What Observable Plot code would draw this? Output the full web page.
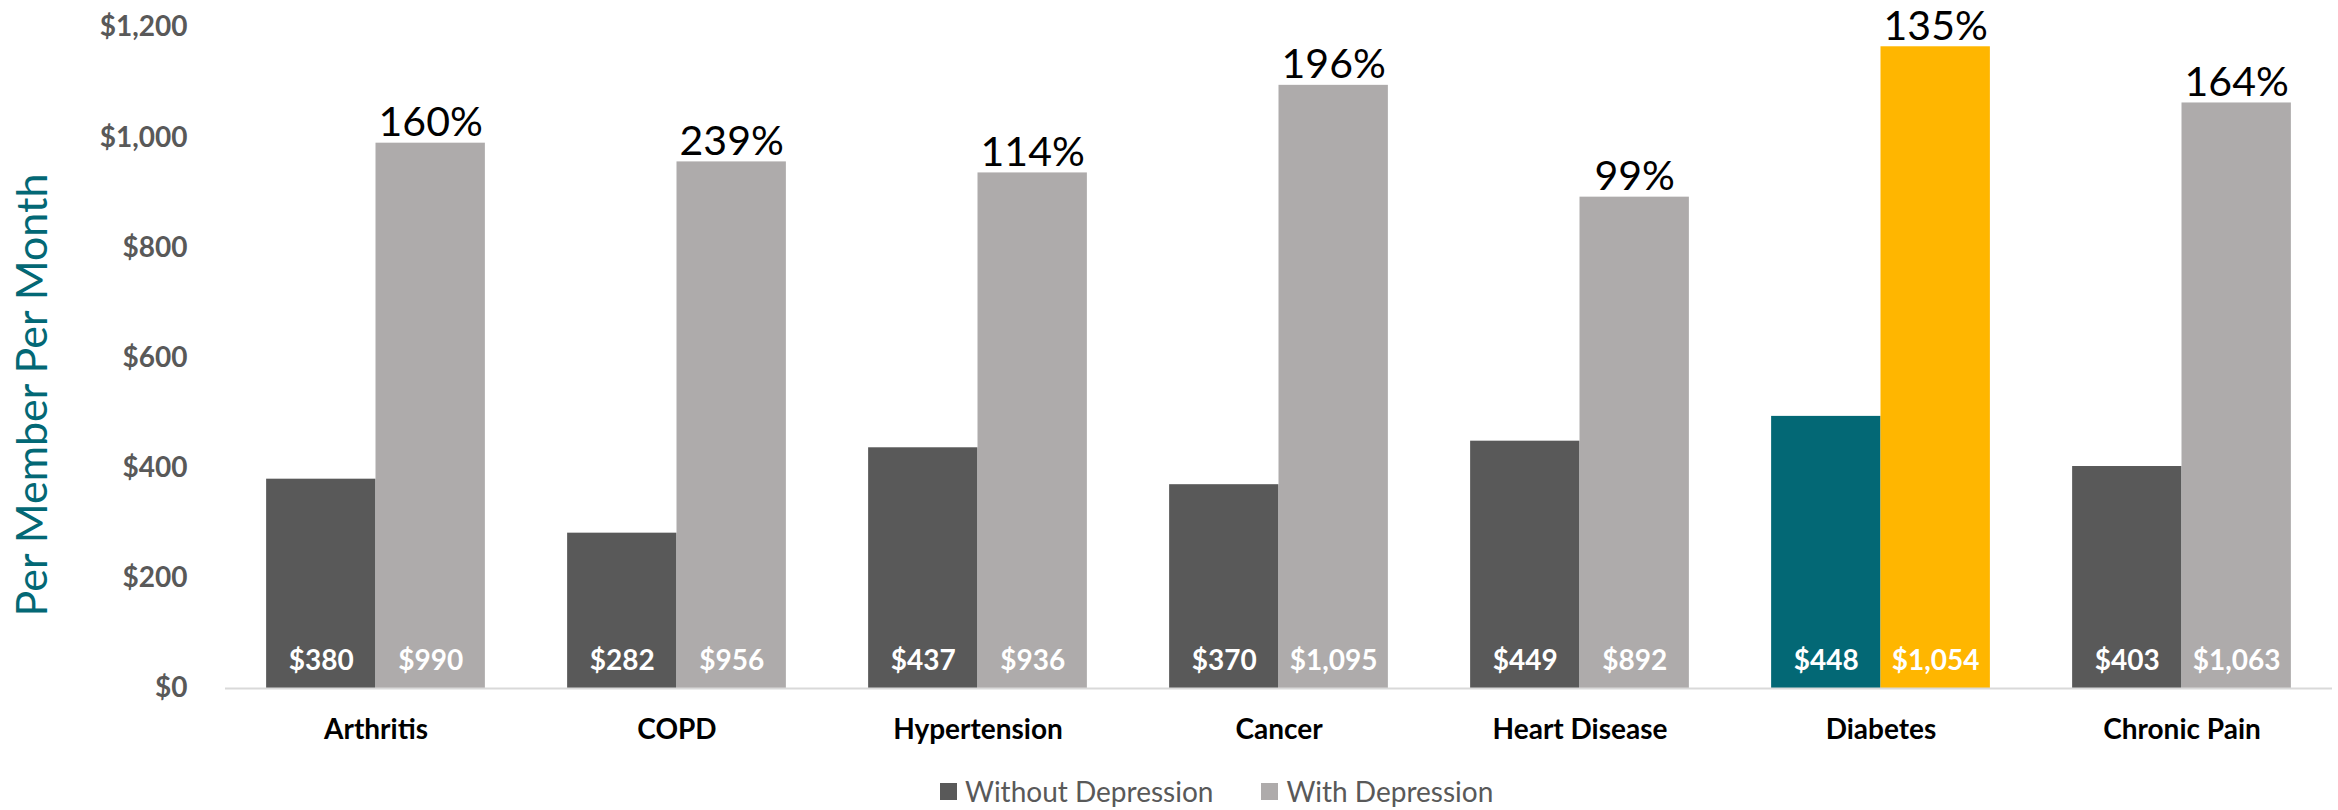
<!DOCTYPE html>
<html>
<head>
<meta charset="utf-8">
<script src="https://cdn.jsdelivr.net/npm/d3@7"></script>
<script src="https://cdn.jsdelivr.net/npm/@observablehq/plot@0.6"></script>
<style>
  html, body { margin: 0; padding: 0; background: #ffffff; }
  body { font-family: Lato, "Open Sans", sans-serif; width: 2338px; }
  #legend { display: flex; align-items: center; height: 38px; padding-left: 940px; font-size: 28px; color: #595959; }
  #legend .item { display: flex; align-items: center; margin-right: 48px; }
  #legend .sw { width: 17px; height: 17px; margin-right: 8px; display: inline-block; }
</style>
</head>
<body>
<div id="chart"></div>
<div id="legend"></div>
<script>
// ---- data ----
const categories = ["Arthritis", "COPD", "Hypertension", "Cancer", "Heart Disease", "Diabetes", "Chronic Pain"];
const series = ["Without Depression", "With Depression"];
// bar heights as drawn (the highlighted Diabetes bars are drawn taller than their labels)
const withoutDepression = [380, 282, 437, 370, 449, 494, 403];
const withDepression = [990, 956, 936, 1095, 892, 1165, 1063];
const withoutLabels = ["$380", "$282", "$437", "$370", "$449", "$448", "$403"];
const withLabels = ["$990", "$956", "$936", "$1,095", "$892", "$1,054", "$1,063"];
const increaseLabels = ["160%", "239%", "114%", "196%", "99%", "135%", "164%"];
const yTicks = [0, 200, 400, 600, 800, 1000, 1200];
const highlighted = "Diabetes";
const yTitle = "Per Member Per Month";

// ---- table ----
const rows = [];
categories.forEach((c, i) => {
  rows.push({category: c, series: series[0], value: withoutDepression[i], label: withoutLabels[i],
             key: c === highlighted ? series[0] + " (highlight)" : series[0]});
  rows.push({category: c, series: series[1], value: withDepression[i], label: withLabels[i], pct: increaseLabels[i],
             key: c === highlighted ? series[1] + " (highlight)" : series[1]});
});
const withRows = rows.filter(d => d.series === series[1]);

const colorDomain = [series[0], series[1], series[0] + " (highlight)", series[1] + " (highlight)"];
const colorRange = ["#595959", "#AEABAB", "#036875", "#FFB600"];

const plot = Plot.plot({
  width: 2338,
  height: 772,
  marginLeft: 223,
  marginRight: 5,
  marginTop: 27,
  marginBottom: 84,
  style: {fontFamily: "Lato, 'Open Sans', sans-serif", background: "#ffffff", overflow: "visible"},
  fx: {domain: categories, padding: 0, label: null, axis: null},
  x: {domain: series, paddingInner: 0, paddingOuter: 0.376, axis: null, round: false},
  y: {domain: [0, 1200], axis: null},
  color: {type: "ordinal", domain: colorDomain, range: colorRange},
  marks: [
    Plot.axisFx({anchor: "bottom", tickSize: 0, tickPadding: 31, fontSize: 28, fontWeight: "bold", color: "#000000", label: null}),
    Plot.axisY({ticks: yTicks, tickFormat: d => "$" + d3.format(",")(d), tickSize: 0, tickPadding: 38,
                fontSize: 28, fontWeight: "bold", color: "#595959", label: null}),
    Plot.barY(rows, {fx: "category", x: "series", y: "value", fill: "key"}),
    Plot.ruleY([0], {stroke: "#D9D9D9", strokeWidth: 2}),
    Plot.text(rows, {fx: "category", x: "series", y: d => 0, text: "label", fill: "#ffffff",
                     fontWeight: "bold", fontSize: 28, lineAnchor: "bottom", dy: -19}),
    Plot.text(withRows, {fx: "category", x: "series", y: "value", text: "pct", fill: "#000000",
                         fontSize: 41, lineAnchor: "bottom", dy: -7}),
    Plot.text([yTitle], {facetAnchor: "left", frameAnchor: "left", text: d => d, rotate: -90,
                         textAnchor: "middle", lineAnchor: "middle",
                         dx: -192, dy: 37, fontSize: 43, fill: "#036875"})
  ]
});
document.getElementById("chart").appendChild(plot);

// ---- legend ----
const legend = d3.select("#legend");
series.forEach((s, i) => {
  const item = legend.append("div").attr("class", "item");
  item.append("span").attr("class", "sw").style("background", colorRange[i]);
  item.append("span").text(s);
});
</script>
</body>
</html>
